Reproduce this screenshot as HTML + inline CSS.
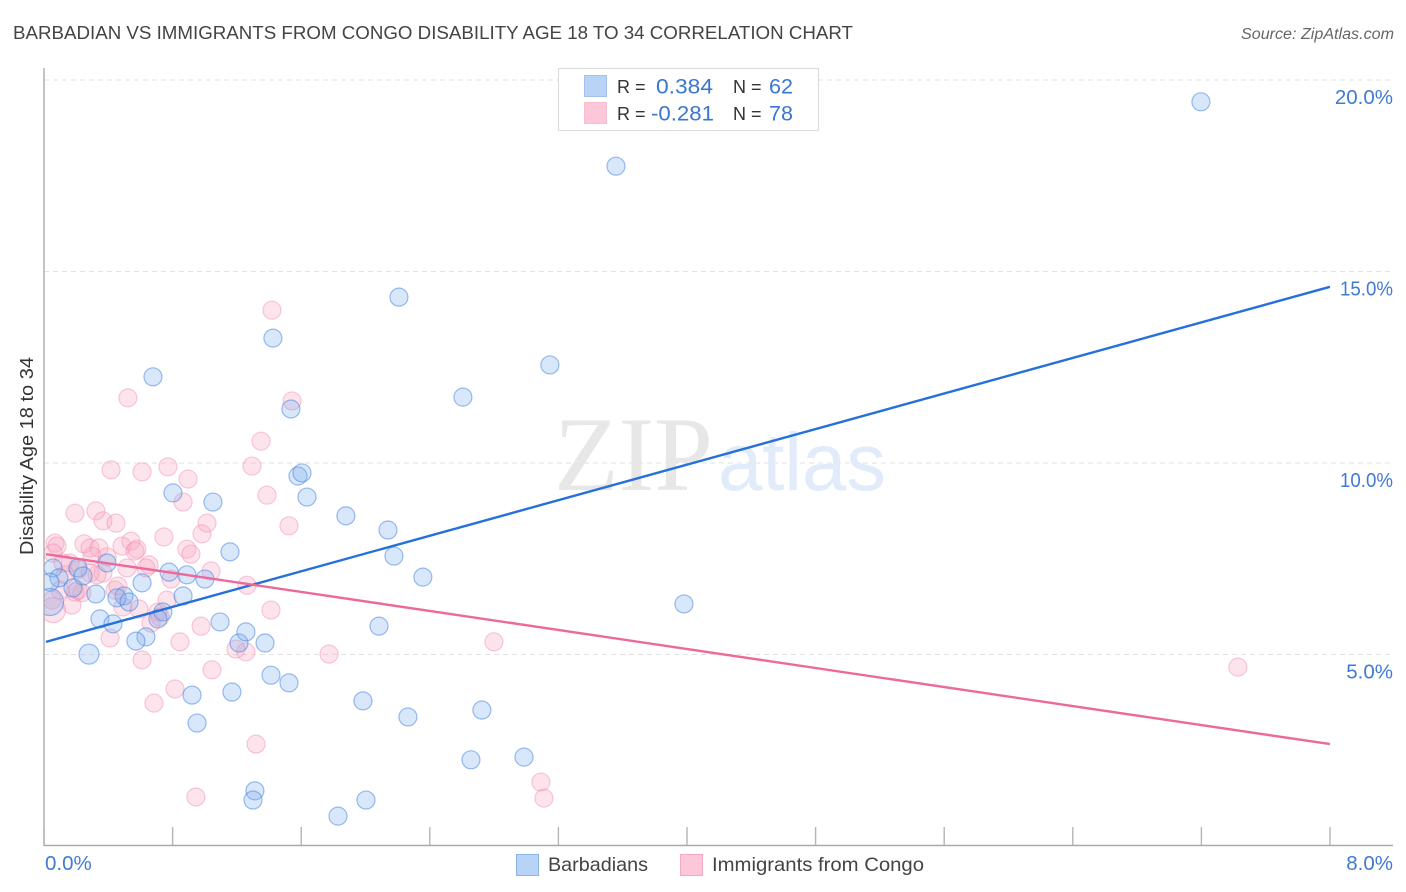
<!DOCTYPE html>
<html lang="en">
<head>
<meta charset="utf-8">
<title>Barbadian vs Immigrants from Congo Disability Age 18 to 34 Correlation Chart</title>
<style>
html,body{margin:0;padding:0;background:#fff;}
svg{display:block;font-family:"Liberation Sans",Arial,sans-serif;}
</style>
</head>
<body>
<svg id="chart" width="1406" height="892" viewBox="0 0 1406 892" xmlns="http://www.w3.org/2000/svg">
  <defs>
    <clipPath id="plot-clip"><rect x="44.5" y="60" width="1349" height="786"/></clipPath>
  </defs>
  <rect width="1406" height="892" fill="#ffffff"/>
  <text x="13" y="39" font-size="18.5" fill="#444" textLength="840" lengthAdjust="spacingAndGlyphs">BARBADIAN VS IMMIGRANTS FROM CONGO DISABILITY AGE 18 TO 34 CORRELATION CHART</text>
  <text x="1394" y="39" font-size="15.5" font-style="italic" fill="#666" text-anchor="end" textLength="153" lengthAdjust="spacingAndGlyphs">Source: ZipAtlas.com</text>

  <g id="grid"></g>
  <g>
    <text x="554" y="490" font-size="106" fill="#e7e7e7" style="font-family:'Liberation Serif',serif">ZIP</text>
    <text x="718" y="490" font-size="82" fill="#e2ebf9" textLength="168" lengthAdjust="spacingAndGlyphs">atlas</text>
  </g>
  <g id="pink-points" clip-path="url(#plot-clip)"></g>
  <g id="blue-points" clip-path="url(#plot-clip)"></g>
  <g id="trends"></g>
  <g id="axes"></g>

  <text transform="translate(33,456) rotate(-90)" font-size="18" fill="#333" text-anchor="middle" textLength="198" lengthAdjust="spacingAndGlyphs">Disability Age 18 to 34</text>

  <g>
    <rect x="558.5" y="68.5" width="260" height="62" fill="#fff" stroke="#ddd" stroke-width="1.2"/>
    <rect x="584.5" y="75.5" width="22" height="21" fill="#b9d3f7" stroke="#a3c0ee"/>
    <rect x="584.5" y="102.5" width="22" height="21" fill="#fcc7d8" stroke="#f9bdd0"/>
    <text x="617" y="93" font-size="18" fill="#333">R =</text>
    <text x="656" y="93.5" font-size="21" fill="#3a76d0" textLength="57" lengthAdjust="spacingAndGlyphs">0.384</text>
    <text x="733" y="93" font-size="18" fill="#333">N =</text>
    <text x="769" y="93.5" font-size="21" fill="#3a76d0" textLength="24" lengthAdjust="spacingAndGlyphs">62</text>
    <text x="617" y="120" font-size="18" fill="#333">R =</text>
    <text x="651" y="120.5" font-size="21" fill="#3a76d0" textLength="63" lengthAdjust="spacingAndGlyphs">-0.281</text>
    <text x="733" y="120" font-size="18" fill="#333">N =</text>
    <text x="769" y="120.5" font-size="21" fill="#3a76d0" textLength="24" lengthAdjust="spacingAndGlyphs">78</text>
  </g>

  <g>
    <rect x="516.5" y="854.5" width="22" height="21" fill="#b9d3f7" stroke="#8fb2e8"/>
    <text x="548" y="871" font-size="19.5" fill="#444" textLength="100" lengthAdjust="spacingAndGlyphs">Barbadians</text>
    <rect x="680.5" y="854.5" width="22" height="21" fill="#fcc7d8" stroke="#f3a9c1"/>
    <text x="712" y="871" font-size="19.5" fill="#444" textLength="212" lengthAdjust="spacingAndGlyphs">Immigrants from Congo</text>
  </g>
</svg>

<script>
const xTickValues = [0, 0.8, 1.6, 2.4, 3.2, 4, 4.8, 5.6, 6.4, 7.2, 8];
const yTickValues = [5, 10, 15, 20];
const yTickLabels = ['5.0%', '10.0%', '15.0%', '20.0%'];
const xEndValues = [0, 8];
const xEndLabels = ['0.0%', '8.0%'];

const barbadianX = [7.197,3.558,2.208,1.424,0.678,3.147,2.606,1.536,1.580,1.605,1.636,0.802,1.051,1.878,2.140,1.157,2.177,2.357,3.981,
  0.778,0.889,1.001,0.610,0.392,0.865,0.323,0.498,0.454,0.529,0.740,0.709,1.095,0.348,0.429,
  0.634,0.572,1.213,1.256,1.375,2.084,1.412,1.524,1.169,0.921,1.984,0.952,2.264,2.724,2.656,2.986,1.312,1.300,2.003,1.829,
  0.056,0.211,0.243,0.093,0.037,0.180];
const barbadianY = [19.43,17.75,14.33,13.26,12.25,12.56,11.72,11.41,9.66,9.74,9.11,9.22,8.98,8.62,8.25,7.68,7.57,7.02,6.32,
  7.15,7.08,6.97,6.87,7.39,6.53,6.58,6.53,6.48,6.37,6.11,5.93,5.85,5.93,5.80,
  5.46,5.35,5.30,5.59,5.30,5.74,4.46,4.26,4.02,3.94,3.79,3.21,3.37,3.55,2.25,2.32,1.44,1.20,1.20,0.78,
  7.26,7.26,7.05,7.00,6.89,6.74];
const barbadianLargeX = [0.280];
const barbadianLargeY = [5.01];
const barbadianHugeX = [0.037];
const barbadianHugeY = [6.37];

const congoX = [1.418,1.543,0.522,1.350,0.417,0.610,0.771,1.294,0.896,0.865,1.387,1.524,0.193,0.323,0.367,0.448,0.068,0.081,0.056,0.249,
  0.286,0.342,0.299,0.392,0.485,0.541,0.578,0.566,0.746,0.983,1.014,0.889,0.914,0.653,0.634,0.516,1.039,1.263,0.790,0.118,
  0.162,0.330,0.367,0.442,0.460,0.174,0.236,0.193,0.491,0.591,0.765,0.709,0.666,0.977,1.412,0.846,0.411,1.194,1.256,0.610,
  1.045,0.815,0.684,1.773,2.799,7.427,1.319,0.945,3.091,3.110,0.211,0.100,0.286,0.050,0.722,0.211,0.131];
const congoY = [13.99,11.62,11.70,10.57,9.82,9.77,9.90,9.92,9.58,8.98,9.16,8.36,8.69,8.75,8.49,8.43,7.91,7.83,7.65,7.89,
  7.78,7.78,7.57,7.55,7.83,7.96,7.75,7.70,8.07,8.15,8.43,7.75,7.62,7.34,7.26,7.26,7.18,6.81,6.97,7.39,
  7.39,7.08,7.13,6.68,6.79,6.29,6.61,6.63,6.24,6.19,6.42,6.11,5.82,5.74,6.16,5.33,5.43,5.14,5.07,4.86,
  4.60,4.10,3.73,5.01,5.33,4.67,2.66,1.28,1.67,1.25,6.68,6.68,7.13,6.42,5.98,7.21,7.08];
const congoLargeX = [0.056];
const congoLargeY = [6.16];

const trendX = [0.012, 8];
const barbadianTrendY = [5.33, 14.60];
const congoTrendY = [7.62, 2.66];

const SVG_NS = 'http://www.w3.org/2000/svg';
const xScale = v => 44 + v * 160.75;
const yScale = v => 846 - v * 38.3;

function make(tag, attrs, parent) {
  const el = document.createElementNS(SVG_NS, tag);
  for (const k in attrs) el.setAttribute(k, attrs[k]);
  parent.appendChild(el);
  return el;
}

const grid = document.getElementById('grid');
yTickValues.forEach((v, i) => {
  const line = make('line', {x1: 44, x2: 1393, y1: yScale(v), y2: yScale(v), stroke: '#e2e2e2', 'stroke-width': 1, 'stroke-dasharray': '5 4'}, grid);
  
  
  const label = make('text', {x: 1393, y: yScale(v) + 24, 'font-size': 20.5, fill: '#3f7bd4', 'text-anchor': 'end'}, grid);
  label.textContent = yTickLabels[i];
  if (yTickLabels[i].charAt(0) === '1') label.setAttribute('textLength', '53');
  if (yTickLabels[i].charAt(0) === '1') label.setAttribute('lengthAdjust', 'spacingAndGlyphs');
  
  
});

function drawPoints(groupId, xs, ys, radius, fill, stroke, name) {
  const g = document.getElementById(groupId);
  xs.forEach((x, i) => {
    const c = make('circle', {cx: xScale(x), cy: yScale(ys[i]), r: radius, fill: fill, stroke: stroke, 'stroke-width': 1.2}, g);
    
    
  });
}
const pinkFill = 'rgba(249,165,192,0.30)', pinkStroke = 'rgba(240,145,178,0.48)';
const blueFill = 'rgba(125,175,240,0.30)', blueStroke = 'rgba(65,130,225,0.52)';
drawPoints('pink-points', congoX, congoY, 9, pinkFill, pinkStroke, 'point-congo');
drawPoints('pink-points', congoLargeX, congoLargeY, 12.5, pinkFill, pinkStroke, 'point-congo-large');
drawPoints('blue-points', barbadianX, barbadianY, 9, blueFill, blueStroke, 'point-barbadian');
drawPoints('blue-points', barbadianLargeX, barbadianLargeY, 10, blueFill, blueStroke, 'point-barbadian-large');
drawPoints('blue-points', barbadianHugeX, barbadianHugeY, 13.5, blueFill, blueStroke, 'point-barbadian-huge');

const trends = document.getElementById('trends');
const blueTrend = make('line', {x1: xScale(trendX[0]), y1: yScale(barbadianTrendY[0]), x2: xScale(trendX[1]), y2: yScale(barbadianTrendY[1]), stroke: '#2571d9', 'stroke-width': 2.4}, trends);


const pinkTrend = make('line', {x1: xScale(trendX[0]), y1: yScale(congoTrendY[0]), x2: xScale(trendX[1]), y2: yScale(congoTrendY[1]), stroke: '#ec6a9b', 'stroke-width': 2.4}, trends);



const axes = document.getElementById('axes');
const yAxis = make('line', {x1: 44, x2: 44, y1: 68, y2: 846, stroke: '#aaa', 'stroke-width': 1.4}, axes);


const xAxis = make('line', {x1: 44, x2: 1393, y1: 845.5, y2: 845.5, stroke: '#aaa', 'stroke-width': 1.4}, axes);


xTickValues.forEach(v => {
  const t = make('line', {x1: xScale(v), x2: xScale(v), y1: 827, y2: 845, stroke: '#b5b5b5', 'stroke-width': 1.4}, axes);
  
  
});
xEndValues.forEach((v, i) => {
  const anchor = i === 0 ? 'start' : 'end';
  const px = i === 0 ? xScale(v) + 1 : xScale(v) + 63;
  const label = make('text', {x: px, y: 870, 'font-size': 20.5, fill: '#3f7bd4', 'text-anchor': anchor}, axes);
  label.textContent = xEndLabels[i];
  
  
});
</script>
</body>
</html>
